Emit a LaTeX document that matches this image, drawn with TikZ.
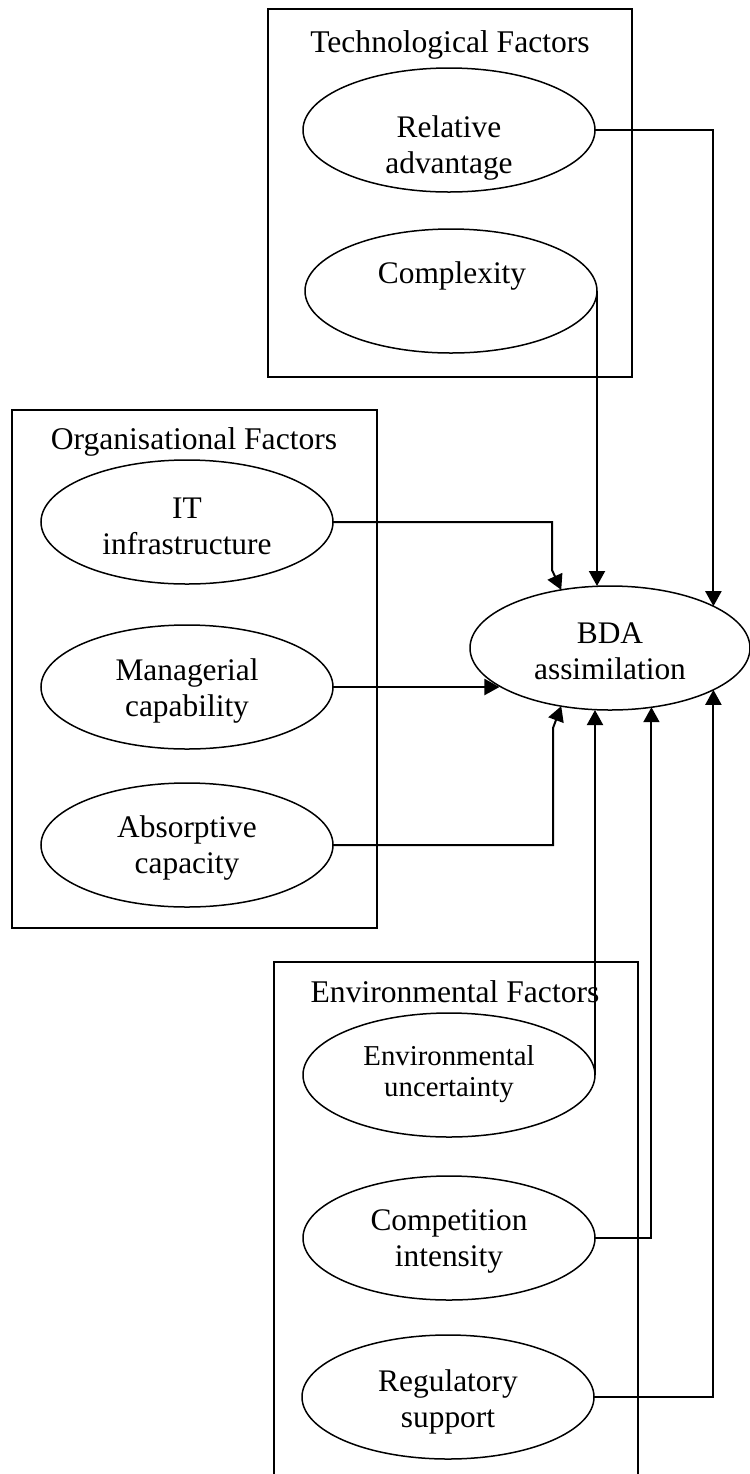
\documentclass[tikz,border=0pt]{standalone}
\usepackage{fontspec}
\setmainfont{Liberation Serif}
\usetikzlibrary{arrows.meta,shapes.geometric}
\begin{document}
\begin{tikzpicture}[x=0.5pt,y=-0.5pt,
  box/.style={draw,line width=0.65pt},
  ell/.style={draw,ellipse,line width=0.75pt,minimum width=146pt,minimum height=62pt,inner sep=0pt,outer sep=0pt},
  bdaell/.style={ell,minimum width=140pt},
  txt/.style={font=\fontsize{15.7}{18}\selectfont,align=center,inner sep=0pt},
  smalltxt/.style={font=\fontsize{14.4}{15.8}\selectfont,align=center,inner sep=0pt},
  ttl/.style={font=\fontsize{15.8}{18}\selectfont,inner sep=0pt,anchor=base},
  conn/.style={line width=1pt,-{Triangle[length=7.5pt,width=8pt]}}
]
\useasboundingbox (0,0) rectangle (750,1474);
\clip (0,0) rectangle (750,1474);

% group boxes
\draw[box] (268,9) rectangle (632,377);
\draw[box] (12,410) rectangle (377,928);
\draw[box] (274,962) rectangle (638,1490);

% titles
\node[ttl] (tt) at (450,52) {Technological Factors};
\node[ttl] (ot) at (194,449) {Organisational Factors};
\node[ttl] (et) at (455,1002) {Environmental Factors};

% ellipses
\node[ell] (ra) at (449,130) {};
\node[txt] (ratx) at (449,148) {Relative\\advantage};
\node[ell] (cx) at (451,291) {};
\node[txt] (cxtx) at (452,276) {Complexity};

\node[ell] (it) at (187,522) {};
\node[txt] (ittx) at (187,526) {IT\\infrastructure};
\node[ell] (mc) at (187,687) {};
\node[txt] (mctx) at (187,691) {Managerial\\capability};
\node[ell] (ab) at (187,845) {};
\node[txt] (abtx) at (187,848) {Absorptive\\capacity};

\node[bdaell] (bda) at (610,648) {};
\node[txt] (bdatx) at (610,651) {BDA\\assimilation};

\node[ell] (eu) at (449,1075) {};
\node[smalltxt] (eutx) at (449,1074) {Environmental\\uncertainty};
\node[ell] (ci) at (449,1238) {};
\node[txt] (citx) at (449,1241) {Competition\\intensity};
\node[ell] (rs) at (448,1397) {};
\node[txt] (rstx) at (448,1402) {Regulatory\\support};

% bend points
\coordinate (itb) at (552,570);
\coordinate (abb) at (553,728);

% connectors
\draw[conn] (ra.east) -| (bda.22);
\draw[conn] (cx.east) -- (cx.east |- bda.north);
\draw[conn] (it.east) -| (itb) -- (bda.130);
\draw[conn] (mc.east) -- (mc.east -| bda.199);
\draw[conn] (ab.east) -| (abb) -- (bda.230);
\draw[conn] (eu.east) -- (eu.east |- bda.south);
\draw[conn] (ci.east) -| (bda.305);
\draw[conn] (rs.east) -| (bda.338);
\end{tikzpicture}
\end{document}
